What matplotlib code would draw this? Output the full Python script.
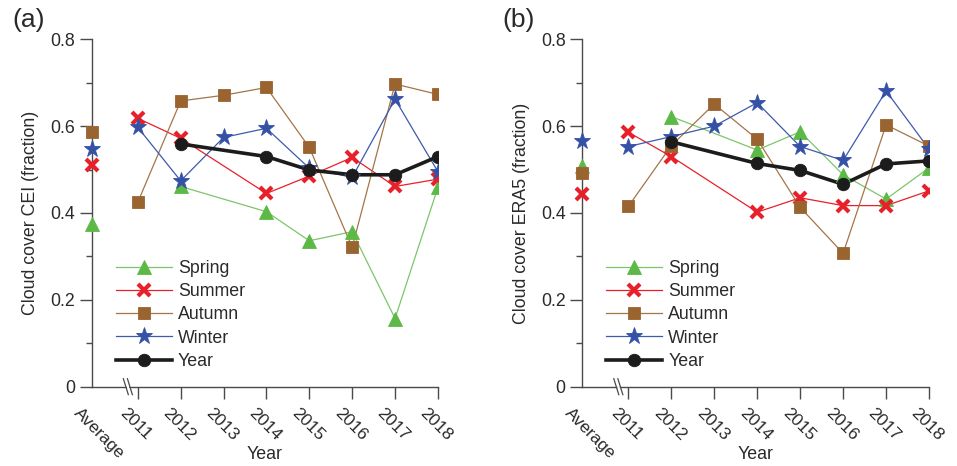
import numpy as np
import matplotlib.pyplot as plt
from matplotlib.transforms import ScaledTranslation

FS = 12.8
TICK_FS = 12.5
plt.rcParams['font.family'] = ['Liberation Sans', 'DejaVu Sans']
plt.rcParams['font.size'] = FS

years = ['2011', '2012', '2013', '2014', '2015', '2016', '2017', '2018']
series_names = ['Spring', 'Summer', 'Autumn', 'Winter', 'Year']

# CEI cloud cover per season, None = no value for that year
cei_spring = [None, 0.461, None, 0.403, 0.336, 0.357, 0.157, 0.459]
cei_summer = [0.618, 0.572, None, 0.445, 0.485, 0.528, 0.461, 0.478]
cei_autumn = [0.425, 0.658, 0.671, 0.689, 0.551, 0.321, 0.697, 0.673]
cei_winter = [0.597, 0.474, 0.574, 0.595, 0.503, 0.482, 0.662, 0.495]
cei_year = [None, 0.559, None, 0.530, 0.499, 0.488, 0.488, 0.530]
cei_average = [0.375, 0.511, 0.587, 0.547, None]

# ERA5 cloud cover
era_spring = [None, 0.622, None, 0.545, 0.587, 0.488, 0.432, 0.504]
era_summer = [0.586, 0.530, None, 0.402, 0.435, 0.417, 0.417, 0.451]
era_autumn = [0.415, 0.555, 0.651, 0.570, 0.413, 0.307, 0.603, 0.554]
era_winter = [0.553, 0.576, 0.600, 0.654, 0.553, 0.521, 0.681, 0.547]
era_year = [None, 0.564, None, 0.514, 0.498, 0.466, 0.513, 0.520]
era_average = [0.509, 0.443, 0.491, 0.566, None]

STYLES = {
    'Spring': dict(color='#5cb946', lc='#7cc66a', marker='^', ms=9.5, lw=0.9, mew=0.6),
    'Summer': dict(color='#e8202a', lc='#e8202a', marker='x', ms=8, lw=0.9, mew=3.0),
    'Autumn': dict(color='#9a6430', lc='#a47548', marker='s', ms=8.5, lw=0.9, mew=0.6),
    'Winter': dict(color='#3451a6', lc='#3d5aab', marker='*', ms=12.5, lw=0.9, mew=0.6),
    'Year': dict(color='#1c1c1c', lc='#1c1c1c', marker='o', ms=9, lw=2.6, mew=0.6),
}

AVG_X = 0.0
YEAR_X = np.arange(len(years)) + 1.07
SPINE = '#4a4a4a'
TEXT = '#2a2a2a'


def draw_panel(ax, series, averages, ylabel, tag, fig):
    for name, values, avg in zip(series_names, series, averages):
        st = STYLES[name]
        mk = dict(marker=st['marker'], ms=st['ms'], mfc=st['color'],
                  mec=st['color'], mew=st['mew'])
        xs = [x for x, v in zip(YEAR_X, values) if v is not None]
        ys = [v for v in values if v is not None]
        ax.plot(xs, ys, color=st['lc'], lw=st['lw'], zorder=3)
        ax.plot(xs, ys, ls='none', zorder=4, **mk)
        # legend proxy
        ax.plot([], [], color=st['lc'], lw=st['lw'], label=name, **mk)
        if avg is not None:
            ax.plot([AVG_X], [avg], ls='none', clip_on=False, zorder=4, **mk)

    ax.set_xlim(AVG_X, YEAR_X[-1])
    ax.set_ylim(0, 0.8)
    ax.set_yticks([0, 0.2, 0.4, 0.6, 0.8])
    ax.set_yticklabels(['0', '0.2', '0.4', '0.6', '0.8'])
    ax.set_yticks([0.1, 0.3, 0.5, 0.7], minor=True)
    ax.set_xticks(YEAR_X)
    ax.set_xticklabels([])

    # slanted category labels under the axis
    lab_trans = ax.get_xaxis_transform() + ScaledTranslation(
        -10 / 100, -19 / 100, fig.dpi_scale_trans)
    for x, lab in zip([AVG_X] + list(YEAR_X), ['Average'] + years):
        ax.text(x, 0, lab, transform=lab_trans, rotation=-45,
                rotation_mode='anchor', ha='left', va='top',
                fontsize=TICK_FS, color=TEXT)

    for side in ('top', 'right'):
        ax.spines[side].set_visible(False)
    for side in ('left', 'bottom'):
        ax.spines[side].set_color(SPINE)
        ax.spines[side].set_linewidth(1.0)
    ax.tick_params(which='major', length=8.6, width=1.0, color=SPINE,
                   labelcolor=TEXT, labelsize=FS, pad=3.5)
    ax.tick_params(which='minor', length=4.3, width=1.0, color=SPINE)

    # axis break between the average and the yearly values
    trans = ax.get_xaxis_transform()
    dx = 0.058
    for cx in (0.79, 0.885):
        ax.plot([cx - dx, cx + dx], [0.023, -0.023], color=SPINE, lw=0.9,
                transform=trans, clip_on=False, zorder=6)
    ax.fill([0.79 - dx + 0.02, 0.885 - dx - 0.02, 0.885 + dx - 0.02, 0.79 + dx + 0.02],
            [0.023, 0.023, -0.023, -0.023], color='white', transform=trans,
            clip_on=False, zorder=5, lw=0)

    ax.set_ylabel(ylabel, color=TEXT, fontsize=FS)
    ax.yaxis.set_label_coords(-0.152, 0.5)
    ax.set_xlabel('Year', color=TEXT, fontsize=FS)
    ax.xaxis.set_label_coords(0.5, -0.17)

    ax.legend(loc='upper left', bbox_to_anchor=(0.069, 0.365), frameon=False,
              handlelength=3.15, handletextpad=0.34, labelspacing=0.35,
              borderpad=0, borderaxespad=0, fontsize=FS, labelcolor=TEXT)

    fig.text(ax.get_position().x0 - 80 / 957, 1 - 20 / 466, tag,
             fontsize=19, va='center', ha='left', color=TEXT)


fig = plt.figure(figsize=(9.57, 4.66), dpi=100)
ax_a = fig.add_axes([0.0961, 0.1702, 0.3615, 0.7455])
ax_b = fig.add_axes([0.6085, 0.1702, 0.3623, 0.7455])

draw_panel(ax_a, [cei_spring, cei_summer, cei_autumn, cei_winter, cei_year],
           cei_average, 'Cloud cover CEI (fraction)', '(a)', fig)
draw_panel(ax_b, [era_spring, era_summer, era_autumn, era_winter, era_year],
           era_average, 'Cloud cover ERA5 (fraction)', '(b)', fig)

fig.savefig('out.png', dpi=100)
